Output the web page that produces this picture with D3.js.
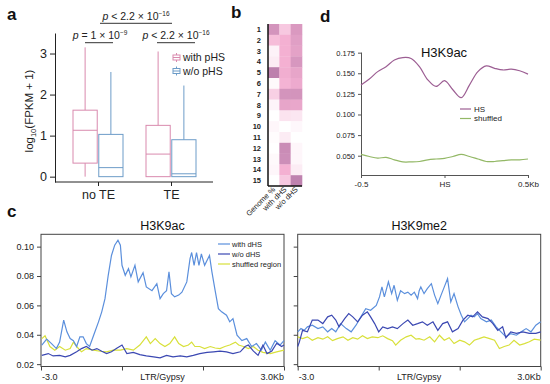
<!DOCTYPE html>
<html>
<head>
<meta charset="utf-8">
<script src="https://cdn.jsdelivr.net/npm/d3@7"></script>
<style>
  body { margin: 0; background: #fff; }
  svg { font-family: "Liberation Sans", Arial, sans-serif; }
</style>
</head>
<body>
<svg id="fig" width="550" height="384"></svg>
<script>
// ---- panel a: boxplot stats [min, q1, median, q3, max] ----
const boxGroups = ["no TE", "TE"];
const boxSeries = ["with pHS", "w/o pHS"];
const withPHSStats = [[0, 0.33, 1.13, 1.62, 3.15], [0, 0, 0.55, 1.25, 3.05]];
const woPHSStats = [[0, 0, 0.22, 1.03, 2.55], [0, 0, 0.07, 0.9, 2.22]];
const boxTicks = [0, 1, 2, 3];

// ---- panel b: heatmap ----
const hmRows = ["1","2","3","4","5","6","7","8","9","10","11","12","13","14","15"];
const hmCols = ["Genome %", "with dHS", "w/o dHS"];
const hmValues = [
  [0.75, 0.35, 0.70],
  [0.42, 0.50, 0.65],
  [0.08, 0.50, 0.62],
  [0.12, 0.50, 0.72],
  [0.92, 0.52, 0.60],
  [0.04, 0.48, 0.55],
  [0.30, 0.75, 0.75],
  [0.07, 0.60, 0.58],
  [0.00, 0.18, 0.16],
  [0.06, 0.00, 0.05],
  [0.02, 0.12, 0.00],
  [0.00, 0.82, 0.06],
  [0.04, 0.80, 0.06],
  [0.06, 0.50, 0.12],
  [0.00, 0.35, 0.90]
];

// ---- panel c: profiles [bin, value], bins 0..300 (-3.0 .. LTR .. 3.0Kb) ----
const k9acWithDHS = [[1,0.033],[7,0.037],[13,0.034],[19,0.0306],[23,0.035],[28,0.050],[32,0.042],[36,0.0374],[40,0.036],[44,0.032],[48,0.0386],[52,0.0386],[56,0.034],[60,0.032],[65,0.0397],[71,0.0488],[75,0.0556],[79,0.0646],[83,0.0805],[87,0.094],[91,0.101],[95,0.1044],[98,0.101],[100,0.0873],[104,0.0805],[108,0.085],[111,0.0794],[116,0.0873],[120,0.076],[126,0.0823],[130,0.0726],[137,0.070],[143,0.0748],[147,0.0646],[151,0.068],[155,0.070],[158,0.0828],[161,0.068],[165,0.0658],[170,0.067],[174,0.069],[180,0.076],[184,0.0918],[186,0.096],[189,0.0873],[192,0.096],[195,0.0873],[198,0.095],[202,0.0873],[208,0.094],[211,0.0828],[215,0.070],[219,0.0578],[223,0.0556],[229,0.0533],[233,0.0488],[237,0.051],[242,0.0397],[248,0.036],[254,0.0374],[260,0.032],[266,0.034],[272,0.0295],[277,0.035],[283,0.0295],[289,0.036],[295,0.033],[300,0.036]];
const k9acWoDHS = [[1,0.026],[9,0.0272],[15,0.0256],[23,0.026],[30,0.025],[36,0.026],[44,0.0284],[50,0.0306],[56,0.032],[63,0.0295],[69,0.0306],[75,0.0288],[81,0.0272],[87,0.0284],[93,0.0306],[100,0.033],[106,0.0272],[114,0.028],[122,0.0265],[130,0.0256],[139,0.025],[147,0.0243],[155,0.026],[163,0.025],[172,0.0256],[180,0.025],[188,0.026],[196,0.0272],[205,0.028],[213,0.0284],[221,0.0288],[229,0.0284],[237,0.0272],[246,0.0284],[252,0.032],[256,0.033],[262,0.029],[268,0.026],[274,0.033],[279,0.0272],[285,0.029],[291,0.0342],[297,0.032],[300,0.033]];
const k9acShuffled = [[1,0.0374],[5,0.0393],[11,0.032],[17,0.0295],[23,0.032],[30,0.0295],[36,0.0306],[40,0.035],[44,0.032],[50,0.0284],[56,0.0306],[65,0.0295],[73,0.0288],[81,0.0284],[89,0.0295],[98,0.0295],[106,0.0306],[114,0.0295],[122,0.033],[130,0.0386],[135,0.034],[141,0.0374],[147,0.034],[153,0.032],[159,0.034],[165,0.0386],[170,0.034],[176,0.032],[182,0.033],[186,0.035],[190,0.032],[196,0.032],[202,0.0306],[209,0.032],[215,0.031],[221,0.0306],[227,0.032],[233,0.033],[240,0.035],[244,0.033],[250,0.032],[256,0.0306],[262,0.032],[268,0.0295],[274,0.028],[283,0.0272],[291,0.0284],[300,0.0295]];

const k9me2WithDHS = [[0,0.042],[4,0.0442],[8,0.043],[12,0.0454],[18,0.0465],[25,0.0442],[31,0.0454],[37,0.042],[42,0.0442],[47,0.042],[53,0.0476],[60,0.0442],[66,0.042],[72,0.0465],[78,0.0522],[84,0.0578],[90,0.0567],[97,0.060],[101,0.0658],[104,0.0726],[107,0.0658],[112,0.076],[116,0.068],[119,0.0737],[123,0.0635],[127,0.070],[132,0.068],[136,0.069],[140,0.067],[144,0.069],[148,0.0646],[150,0.070],[152,0.0726],[156,0.068],[160,0.0714],[165,0.0748],[169,0.067],[173,0.0612],[177,0.067],[181,0.0726],[185,0.0782],[189,0.0624],[193,0.068],[198,0.059],[202,0.0533],[206,0.0488],[210,0.051],[214,0.0533],[218,0.0522],[222,0.0544],[226,0.051],[233,0.0488],[239,0.050],[245,0.0454],[251,0.042],[257,0.0386],[263,0.0408],[270,0.0397],[276,0.042],[282,0.0442],[288,0.042],[294,0.0465],[300,0.0488]];
const k9me2WoDHS = [[0,0.032],[2,0.035],[6,0.043],[12,0.042],[18,0.050],[25,0.050],[31,0.0476],[37,0.0522],[42,0.0533],[47,0.050],[51,0.0454],[58,0.051],[63,0.0544],[68,0.0522],[74,0.0488],[80,0.0533],[86,0.0556],[90,0.0522],[95,0.0476],[100,0.042],[105,0.0454],[111,0.0442],[117,0.0454],[123,0.0442],[130,0.0476],[136,0.050],[142,0.0465],[148,0.0476],[154,0.0488],[160,0.0465],[167,0.0488],[173,0.043],[179,0.0476],[185,0.0488],[191,0.042],[198,0.0442],[204,0.050],[210,0.0533],[216,0.0522],[222,0.0556],[228,0.0522],[235,0.051],[241,0.0476],[247,0.043],[253,0.0454],[257,0.038],[263,0.042],[270,0.041],[278,0.042],[286,0.041],[294,0.041],[300,0.042]];
const k9me2Shuffled = [[0,0.0386],[6,0.0374],[12,0.0386],[18,0.0363],[25,0.038],[31,0.037],[37,0.0386],[43,0.036],[49,0.0374],[56,0.0386],[62,0.0363],[68,0.038],[74,0.037],[80,0.0393],[86,0.0374],[92,0.0386],[99,0.038],[105,0.0393],[111,0.0374],[117,0.036],[121,0.033],[127,0.0363],[134,0.0386],[140,0.0397],[146,0.037],[150,0.0374],[156,0.0363],[163,0.0386],[169,0.0352],[175,0.0397],[181,0.0363],[187,0.038],[193,0.034],[200,0.0363],[206,0.0352],[212,0.033],[218,0.0363],[224,0.0374],[230,0.0386],[237,0.0374],[243,0.0363],[249,0.0306],[255,0.032],[261,0.033],[267,0.0363],[274,0.033],[280,0.034],[286,0.0352],[292,0.037],[300,0.0363]];
const profileTicks = [0.02, 0.04, 0.06, 0.08, 0.10];
const profileLabels = ["with dHS", "w/o dHS", "shuffled region"];

// ---- panel d: H3K9ac around HS ----
const hsX = [-0.5,-0.45,-0.4,-0.35,-0.3,-0.25,-0.2,-0.15,-0.1,-0.05,0,0.05,0.1,0.15,0.2,0.25,0.3,0.35,0.4,0.45,0.5];
const hsValues = [0.1358,0.143,0.152,0.158,0.166,0.169,0.168,0.158,0.142,0.134,0.141,0.130,0.1204,0.136,0.152,0.159,0.156,0.154,0.155,0.153,0.149];
const shuffledValues = [0.0517,0.049,0.047,0.048,0.045,0.0425,0.0425,0.043,0.045,0.046,0.0468,0.049,0.0515,0.049,0.046,0.043,0.043,0.044,0.045,0.045,0.046];
const hsTicks = [0.050, 0.075, 0.100, 0.125, 0.150, 0.175];

const svg = d3.select("#fig");

// panel letters
[["a", 7, 20], ["b", 231, 18], ["c", 7, 217], ["d", 320, 22]].forEach(([t, x, y]) => {
  svg.append("text").attr("x", x).attr("y", y).attr("font-size", 17)
    .attr("font-weight", "bold").attr("fill", "#111").text(t);
});

// ================= panel a =================
const aY = d3.scaleLinear().domain([-0.13, 3.5]).range([182, 33]);
const aX = d3.scalePoint().domain(boxGroups).range([98, 171]);
const aSub = d3.scaleBand().domain(boxSeries).range([-25, 25]).paddingInner(0.06);
const aColor = d3.scaleOrdinal().domain(boxSeries).range(["#d98aae", "#6d9cc8"]);
const aStats = { "with pHS": withPHSStats, "w/o pHS": woPHSStats };

const ga = svg.append("g");
const yAxisA = ga.append("g").attr("transform", "translate(55,0)")
  .call(d3.axisLeft(aY).tickValues(boxTicks).tickSize(5).tickSizeOuter(0).tickPadding(3).tickFormat(d3.format("d")));
yAxisA.selectAll("text").attr("font-size", 12.5).attr("fill", "#222");
yAxisA.selectAll("line, path").attr("stroke", "#222");

const xAxisA = ga.append("g").attr("transform", "translate(0,182)")
  .call(d3.axisBottom(aX).tickSize(4).tickPadding(4));
xAxisA.select(".domain").remove();
xAxisA.selectAll("text").attr("font-size", 12.5).attr("fill", "#222");
xAxisA.selectAll("line").attr("stroke", "#222");
ga.append("line").attr("x1", 55).attr("x2", 213).attr("y1", 182).attr("y2", 182).attr("stroke", "#222");

boxSeries.forEach(s => {
  boxGroups.forEach((g, gi) => {
    const [mn, q1, md, q3, mx] = aStats[s][gi];
    const x0 = aX(g) + aSub(s), w = aSub.bandwidth(), cx = x0 + w / 2;
    const col = aColor(s);
    ga.append("line").attr("x1", cx).attr("x2", cx).attr("y1", aY(q3)).attr("y2", aY(mx)).attr("stroke", col);
    ga.append("line").attr("x1", cx).attr("x2", cx).attr("y1", aY(q1)).attr("y2", aY(mn)).attr("stroke", col);
    ga.append("rect").attr("x", x0).attr("y", aY(q3)).attr("width", w).attr("height", aY(q1) - aY(q3))
      .attr("fill", "#fff").attr("fill-opacity", 0.6).attr("stroke", col);
    ga.append("line").attr("x1", x0).attr("x2", x0 + w).attr("y1", aY(md)).attr("y2", aY(md)).attr("stroke", col);
  });
});

// y label
ga.append("text").attr("transform", "translate(33,111) rotate(-90)").attr("text-anchor", "middle")
  .attr("font-size", 11.5).attr("fill", "#222")
  .call(t => {
    t.append("tspan").text("log");
    t.append("tspan").attr("font-size", 7.5).attr("dy", 3).text("10");
    t.append("tspan").attr("dy", -3).text("(FPKM + 1)");
  });

// p-value annotations
function pText(x, y, op, exp) {
  const t = ga.append("text").attr("x", x).attr("y", y).attr("text-anchor", "middle")
    .attr("font-size", 10.5).attr("fill", "#222");
  t.append("tspan").attr("font-style", "italic").text("p");
  t.append("tspan").text(" " + op + " × 10");
  t.append("tspan").attr("font-size", 6.5).attr("dy", -4).text(exp);
}
pText(100, 39, "= 1", "−9");
pText(176, 39, "< 2.2", "−16");
pText(136, 20, "< 2.2", "−16");
[[85, 113, 42.7], [157, 195, 42.7], [100, 172, 23.3]].forEach(([x1, x2, y]) => {
  ga.append("line").attr("x1", x1).attr("x2", x2).attr("y1", y).attr("y2", y).attr("stroke", "#333");
});

// legend
boxSeries.forEach((s, i) => {
  const y0 = 53 + i * 13.5, col = aColor(s);
  ga.append("line").attr("x1", 176.5).attr("x2", 176.5).attr("y1", y0).attr("y2", y0 + 9).attr("stroke", col);
  ga.append("rect").attr("x", 173).attr("y", y0 + 2).attr("width", 7).attr("height", 5)
    .attr("fill", "#fff").attr("stroke", col);
  ga.append("line").attr("x1", 173).attr("x2", 180).attr("y1", y0 + 4.5).attr("y2", y0 + 4.5).attr("stroke", col);
  ga.append("text").attr("x", 183).attr("y", y0 + 8).attr("font-size", 10.5).attr("fill", "#222").text(s);
});

// ================= panel b =================
const bX = d3.scaleBand().domain(hmCols).range([268, 302]);
const bY = d3.scaleBand().domain(hmRows).range([24, 186]);
const bColor = d3.scaleLinear().domain([0, 0.5, 1]).range(["#ffffff", "#f4b0d2", "#b277a6"]);
const gb = svg.append("g");
hmValues.forEach((row, ri) => {
  row.forEach((v, ci) => {
    gb.append("rect").attr("x", bX(hmCols[ci])).attr("y", bY(hmRows[ri]))
      .attr("width", bX.bandwidth() + 0.3).attr("height", bY.bandwidth() + 0.3)
      .attr("fill", bColor(v));
  });
});
gb.append("line").attr("x1", 268).attr("x2", 268).attr("y1", 24).attr("y2", 186).attr("stroke", "#111").attr("stroke-width", 1.5);
gb.append("line").attr("x1", 268).attr("x2", 302).attr("y1", 186).attr("y2", 186).attr("stroke", "#111").attr("stroke-width", 1.5);
hmRows.forEach(r => {
  gb.append("text").attr("x", 261).attr("y", bY(r) + bY.bandwidth() / 2 + 2.5)
    .attr("text-anchor", "end").attr("font-size", 7.5).attr("font-weight", "bold").attr("fill", "#222").text(r);
});
hmCols.forEach(c => {
  const cx = bX(c) + bX.bandwidth() / 2 + 2;
  gb.append("text").attr("transform", `translate(${cx},190) rotate(-45)`)
    .attr("text-anchor", "end").attr("font-size", 7.5).attr("fill", "#222").text(c);
});

// ================= panel c =================
const cColors = ["#5b8fdc", "#3b48b2", "#d8e03a"];
function profile(x0, x1, title, series, labelled, legend) {
  const g = svg.append("g");
  const x = d3.scaleLinear().domain([0, 300]).range([x0, x1]);
  const y = d3.scaleLinear().domain([0.0184, 0.1084]).range([366.5, 234.3]);
  const ya = g.append("g").attr("transform", `translate(${x0},0)`)
    .call(d3.axisLeft(y).tickValues(profileTicks).tickSize(4).tickSizeOuter(0)
      .tickFormat(labelled ? d3.format(".2f") : ""));
  ya.select(".domain").remove();
  ya.selectAll("text").attr("font-size", 9).attr("fill", "#222");
  ya.selectAll("line").attr("stroke", "#444");
  const xa = g.append("g").attr("transform", "translate(0,366.5)")
    .call(d3.axisBottom(x).tickValues([0, 100, 200, 300]).tickSize(4).tickSizeOuter(0).tickFormat(""));
  xa.select(".domain").remove();
  xa.selectAll("line").attr("stroke", "#444");
  g.append("rect").attr("x", x0).attr("y", 234.3).attr("width", x1 - x0).attr("height", 366.5 - 234.3)
    .attr("fill", "none").attr("stroke", "#444");
  const line = d3.line().x(d => x(d[0])).y(d => y(d[1]));
  [2, 0, 1].forEach(i => {
    g.append("path").datum(series[i]).attr("d", line).attr("fill", "none")
      .attr("stroke", cColors[i]).attr("stroke-width", 1.2);
  });
  [["-3.0", 0, "start"], ["LTR/Gypsy", 150, "middle"], ["3.0Kb", 300, "end"]].forEach(([t, b, a]) => {
    g.append("text").attr("x", x(b) + (a === "start" ? 1 : 0)).attr("y", 380).attr("text-anchor", a)
      .attr("font-size", 9).attr("fill", "#222").text(t);
  });
  g.append("text").attr("x", x(150)).attr("y", 230).attr("text-anchor", "middle")
    .attr("font-size", 12.5).attr("fill", "#111").text(title);
  if (legend) {
    profileLabels.forEach((l, i) => {
      const ly = 244 + i * 10;
      g.append("line").attr("x1", 218).attr("x2", 230).attr("y1", ly).attr("y2", ly)
        .attr("stroke", cColors[i]).attr("stroke-width", 1.2);
      g.append("text").attr("x", 232).attr("y", ly + 2.7).attr("font-size", 7.5).attr("fill", "#222").text(l);
    });
  }
}
profile(41, 284, "H3K9ac", [k9acWithDHS, k9acWoDHS, k9acShuffled], true, true);
profile(297.7, 540.7, "H3K9me2", [k9me2WithDHS, k9me2WoDHS, k9me2Shuffled], false, false);

// ================= panel d =================
const gd = svg.append("g");
const dX = d3.scaleLinear().domain([-0.5, 0.5]).range([361, 528]);
const dY = d3.scaleLinear().domain([0.0266, 0.1758]).range([175, 52]);
const dya = gd.append("g").attr("transform", "translate(361,0)")
  .call(d3.axisLeft(dY).tickValues(hsTicks).tickSize(3).tickSizeOuter(0).tickFormat(d3.format(".3f")));
dya.selectAll("text").attr("font-size", 7.5).attr("fill", "#222");
dya.selectAll("line, path").attr("stroke", "#555");
const dxa = gd.append("g").attr("transform", "translate(0,175)")
  .call(d3.axisBottom(dX).tickValues([-0.5, 0, 0.5]).tickSize(3).tickSizeOuter(0)
    .tickFormat(d => d === 0 ? "HS" : d < 0 ? "-0.5" : "0.5Kb"));
dxa.selectAll("text").attr("font-size", 8).attr("fill", "#222");
dxa.selectAll("line, path").attr("stroke", "#555");
const dLine = d3.line().x((d, i) => dX(hsX[i])).y(d => dY(d)).curve(d3.curveCatmullRom);
gd.append("path").datum(hsValues).attr("d", dLine).attr("fill", "none").attr("stroke", "#9c5e93").attr("stroke-width", 1.2);
gd.append("path").datum(shuffledValues).attr("d", dLine).attr("fill", "none").attr("stroke", "#93b866").attr("stroke-width", 1.2);
gd.append("text").attr("x", 444).attr("y", 56.5).attr("text-anchor", "middle").attr("font-size", 13).attr("fill", "#111").text("H3K9ac");
[["HS", "#9c5e93"], ["shuffled", "#93b866"]].forEach(([l, c], i) => {
  const ly = 109 + i * 9.5;
  gd.append("line").attr("x1", 460).attr("x2", 471).attr("y1", ly).attr("y2", ly).attr("stroke", c).attr("stroke-width", 1.2);
  gd.append("text").attr("x", 474).attr("y", ly + 2.8).attr("font-size", 8).attr("fill", "#222").text(l);
});
</script>
</body>
</html>
